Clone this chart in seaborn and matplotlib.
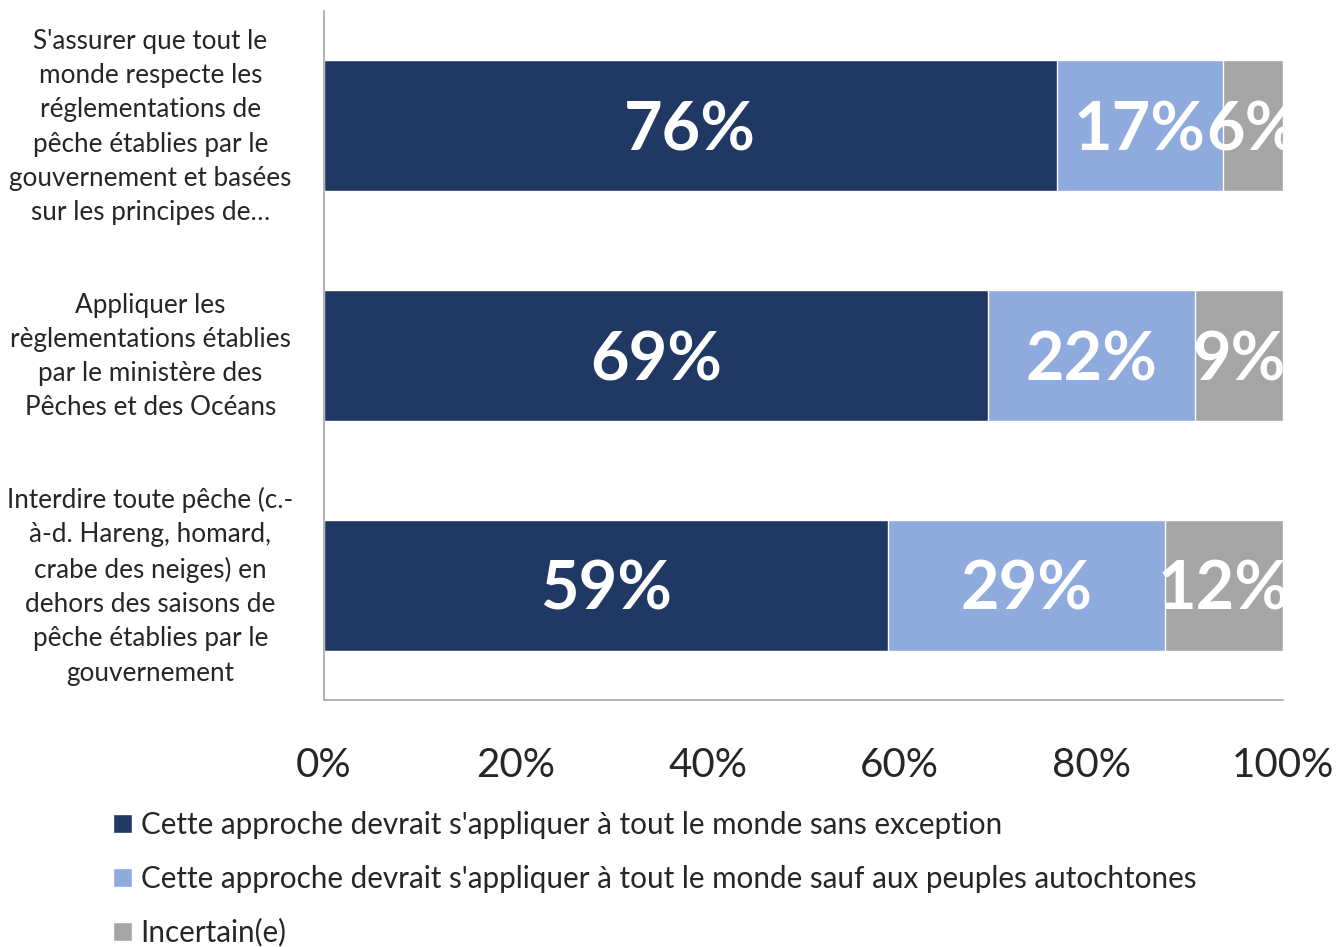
import numpy as np
import pandas as pd
import matplotlib
matplotlib.use("Agg")
import matplotlib.pyplot as plt
import matplotlib.transforms as mtransforms
import seaborn as sns

sns.set_theme(style="white")
plt.rcParams['font.family'] = ['Lato', 'DejaVu Sans']

# Data
categories = [
    "S'assurer que tout le\nmonde respecte les\nréglementations de\npêche établies par le\ngouvernement et basées\nsur les principes de…",
    "Appliquer les\nrèglementations établies\npar le ministère des\nPêches et des Océans",
    "Interdire toute pêche (c.-\nà-d. Hareng, homard,\ncrabe des neiges) en\ndehors des saisons de\npêche établies par le\ngouvernement",
]
series_names = [
    "Cette approche devrait s'appliquer à tout le monde sans exception",
    "Cette approche devrait s'appliquer à tout le monde sauf aux peuples autochtones",
    "Incertain(e)",
]
sans_exception = [76.4, 69.2, 58.8]
sauf_autochtones = [17.4, 21.6, 28.9]
incertain = [6.2, 9.2, 12.3]
colors = ["#203864", "#8FAADC", "#A5A5A5"]
xticks = [0, 20, 40, 60, 80, 100]

df = pd.DataFrame({
    "cat": categories,
    "s1": sans_exception,
    "s2": sauf_autochtones,
    "s3": incertain,
})
df["c1"] = df["s1"]
df["c2"] = df["s1"] + df["s2"]
df["c3"] = df["c2"] + df["s3"]

fig = plt.figure(figsize=(13.42, 9.47), dpi=100)
ax = fig.add_axes([0.2414, 0.2608, 0.7146, 0.7276])

# stacked bars: draw cumulative totals back to front
for col, color, name in zip(["c3", "c2", "c1"], colors[::-1], series_names[::-1]):
    sns.barplot(data=df, x=col, y="cat", orient="h", color=color, width=0.57,
                saturation=1, label=name, ax=ax, zorder=2)

# value labels in the middle of each segment
for i in range(len(categories)):
    starts = [0, df["c1"][i], df["c2"][i]]
    vals = [df["s1"][i], df["s2"][i], df["s3"][i]]
    for s, v in zip(starts, vals):
        t = ax.text(s + v / 2, i + 0.025, f"{v:.0f}%", ha="center", va="center",
                    color="white", fontsize=48, fontweight="bold", zorder=5)
        t.set_clip_on(True)

ax.set_xlim(0, 100)
ax.set_ylim(2.5, -0.5)
ax.set_xticks(xticks)
ax.set_xticklabels([f"{x}%" for x in xticks], fontsize=29)
ax.set_xlabel("")
ax.set_ylabel("")
ax.tick_params(axis="x", length=0, pad=34)
ax.tick_params(axis="y", length=0, pad=125)
shift_up = mtransforms.ScaledTranslation(0, 0.06, fig.dpi_scale_trans)
for lab in ax.get_yticklabels():
    lab.set_ha("center")
    lab.set_fontsize(18.8)
    lab.set_linespacing(1.46)
    lab.set_transform(lab.get_transform() + shift_up)

for s in ["top", "right"]:
    ax.spines[s].set_visible(False)
for s in ["left", "bottom"]:
    ax.spines[s].set_color("#A6A6A6")
    ax.spines[s].set_linewidth(1.2)

handles, labels = ax.get_legend_handles_labels()
order = [labels.index(n) for n in series_names]
ax.legend([handles[k] for k in order], [labels[k] for k in order],
          loc="upper left", bbox_to_anchor=(0.0757, 0.156),
          bbox_transform=fig.transFigure, frameon=False, fontsize=21.3,
          handlelength=0.62, handleheight=0.62, handletextpad=0.3,
          labelspacing=0.86, borderaxespad=0)

fig.savefig("out.png", dpi=100)
